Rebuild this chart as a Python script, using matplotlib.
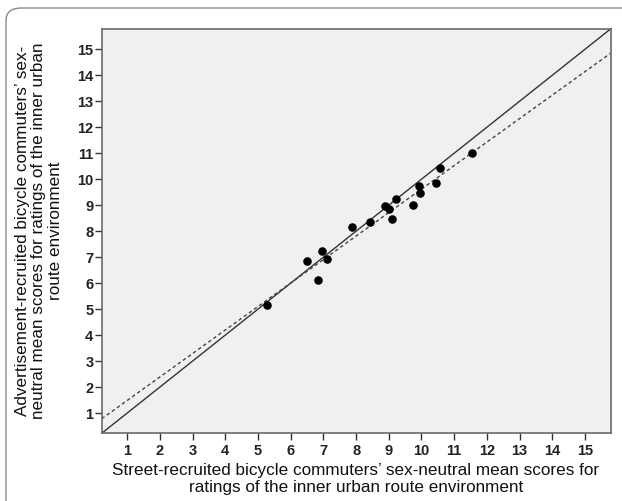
import matplotlib.pyplot as plt
from matplotlib.patches import FancyBboxPatch
from matplotlib import font_manager

# street-recruited (x) vs advertisement-recruited (y) mean scores
street_scores = [5.26, 6.51, 6.83, 6.97, 7.12, 7.88, 8.42, 8.88, 9.00, 9.10,
                 9.22, 9.74, 9.93, 9.95, 10.45, 10.58, 11.55]
advert_scores = [5.14, 6.87, 6.13, 7.23, 6.91, 8.15, 8.36, 8.97, 8.85, 8.47,
                 9.23, 9.02, 9.74, 9.47, 9.86, 10.43, 11.00]

# fitted line (dashed)
FIT_INTERCEPT = 0.58
FIT_SLOPE = 0.904

AXIS_MIN = 0.22
AXIS_MAX = 15.78
TICKS = list(range(1, 16))

XLABEL = ("Street-recruited bicycle commuters\u2019 sex-neutral mean scores for\n"
          "ratings of the inner urban route environment")
YLABEL = ("Advertisement-recruited bicycle commuters\u2019 sex-\n"
          "neutral mean scores for ratings of the inner urban\n"
          "route environment")

available = {f.name for f in font_manager.fontManager.ttflist}
label_font = "Liberation Sans" if "Liberation Sans" in available else "DejaVu Sans"
tick_font = "Liberation Sans Narrow" if "Liberation Sans Narrow" in available else label_font

fig = plt.figure(figsize=(6.22, 5.01), dpi=100)
frame = FancyBboxPatch((6 / 622, -0.05), 1.2, 1 - 8 / 501 + 0.05,
                       boxstyle="round,pad=0,rounding_size=0.025",
                       transform=fig.transFigure, facecolor="white",
                       edgecolor="#8a8a8a", linewidth=1.0, zorder=-10)
fig.patches.append(frame)

ax = fig.add_axes([101.7 / 622, 1 - 433.3 / 501, (610.5 - 101.7) / 622, (433.3 - 29) / 501])
ax.set_zorder(1)
ax.set_facecolor("#f0f0f0")

ax.plot([AXIS_MIN, AXIS_MAX], [AXIS_MIN, AXIS_MAX], color="#333333", linewidth=1.0, zorder=2)
fx = [AXIS_MIN, AXIS_MAX]
ax.plot(fx, [FIT_INTERCEPT + FIT_SLOPE * v for v in fx], color="#444444",
        linewidth=1.0, linestyle=(0, (2.5, 2)), zorder=2)
ax.scatter(street_scores, advert_scores, s=38, color="black", zorder=3, linewidths=0)

ax.set_xlim(AXIS_MIN, AXIS_MAX)
ax.set_ylim(AXIS_MIN, AXIS_MAX)
ax.set_xticks(TICKS)
ax.set_yticks(TICKS)
ax.tick_params(direction="out", length=5, width=1, color="#333333", top=False, right=False)
for lab in ax.get_xticklabels() + ax.get_yticklabels():
    lab.set_fontfamily(tick_font)
    lab.set_fontweight("bold")
    lab.set_fontsize(10.5)
    lab.set_color("#222222")
ax.tick_params(axis="x", pad=3)
ax.tick_params(axis="y", pad=1)
for sp in ax.spines.values():
    sp.set_color("#6a6a6a")
    sp.set_linewidth(1.2)

fig.text(356 / 622, 1 - 479 / 501, XLABEL, ha="center", va="center",
         fontsize=12.3, family=label_font, linespacing=1.12, color="#111111")
fig.text(39 / 622, 1 - 231 / 501, YLABEL, ha="center", va="center", rotation=90,
         fontsize=12.3, family=label_font, linespacing=1.12, color="#111111")

fig.savefig("out.png", dpi=100)
